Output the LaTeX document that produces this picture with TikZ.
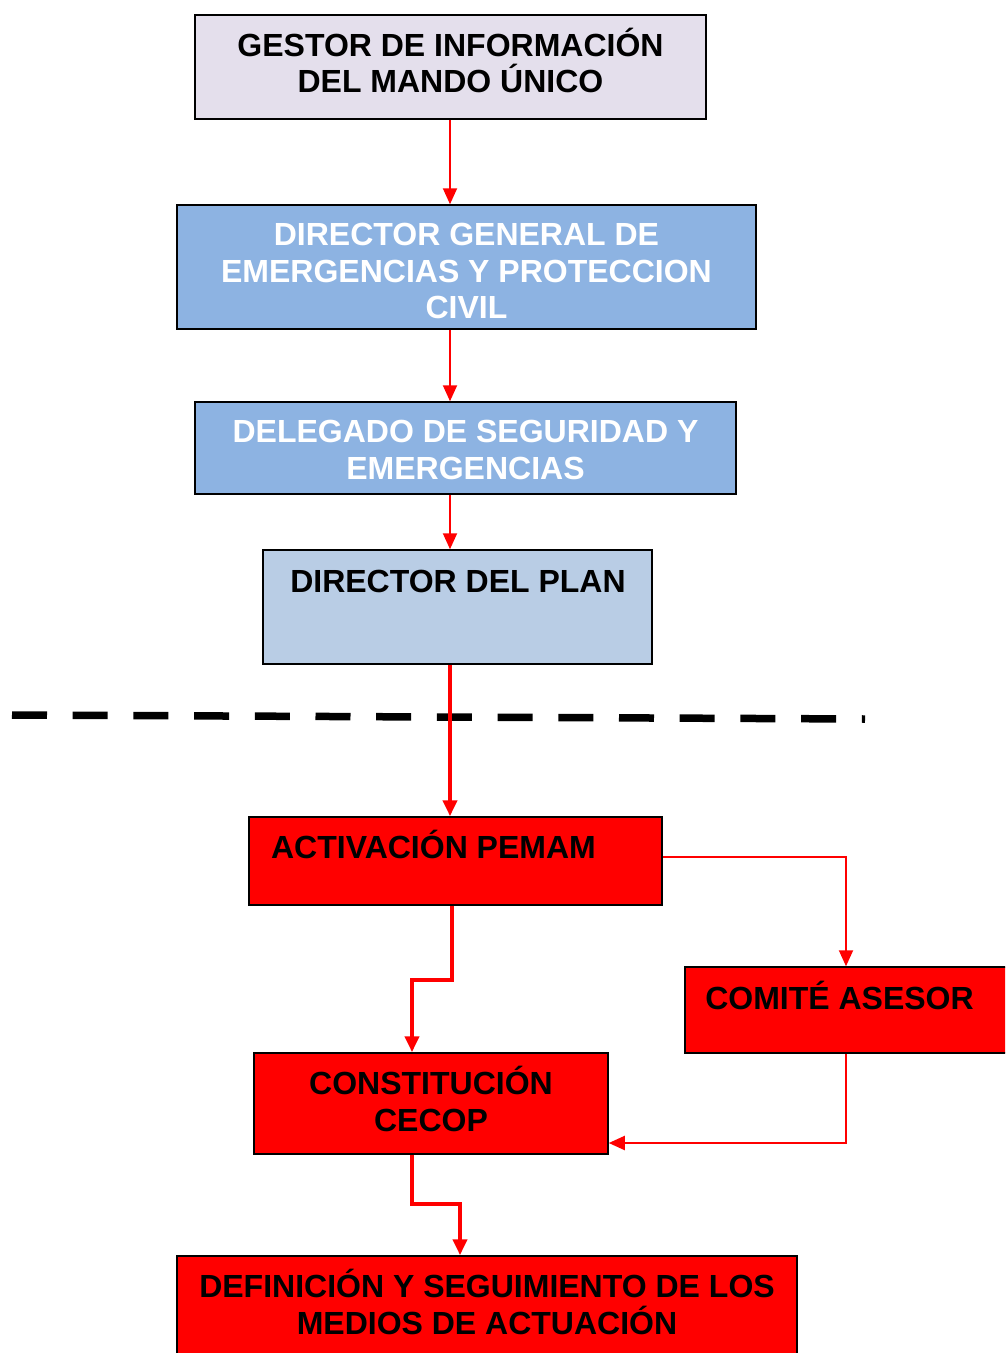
\documentclass[tikz,border=0pt]{standalone}
\usepackage{fontspec}
\setmainfont{Liberation Sans}
\usetikzlibrary{arrows.meta}
\definecolor{lav}{HTML}{E4DFEC}
\definecolor{bluebox}{HTML}{8DB3E2}
\definecolor{paleblue}{HTML}{B9CDE5}
\definecolor{redbox}{HTML}{FF0000}
\definecolor{arrowred}{HTML}{FF0000}
\tikzset{
  box/.style={draw=black, line width=1.5pt, inner sep=0pt},
  txt/.style={font=\fontsize{32}{36.5}\selectfont\bfseries, align=center, inner sep=0pt},
  thin arrow/.style={draw=arrowred, line width=2pt, -{Triangle[length=16pt,width=14pt]}},
  thick arrow/.style={draw=arrowred, line width=4pt, -{Triangle[length=16pt,width=14pt]}},
  sep line/.style={draw=black, line width=7.5pt, dash pattern=on 35pt off 25.7pt}
}
\begin{document}
\begin{tikzpicture}[x=1pt,y=-1pt]
\clip (0,0) rectangle (1005,1353);
\fill[white] (0,0) rectangle (1005,1353);

% boxes
\node[box, fill=lav, minimum width=511pt, minimum height=104pt] (gestor) at (450.5,67) {};
\node[txt] (tgestor) at (450.5,60.5) {GESTOR DE INFORMACIÓN\\DEL MANDO ÚNICO};

\node[box, fill=bluebox, minimum width=579pt, minimum height=124pt] (dg) at (466.5,267) {};
\node[txt, text=white] (tdg) at (466.5,271) {DIRECTOR GENERAL DE\\EMERGENCIAS Y PROTECCION\\CIVIL};

\node[box, fill=bluebox, minimum width=541pt, minimum height=92pt] (del) at (465.5,448) {};
\node[txt, text=white] (tdel) at (465.5,450) {DELEGADO DE SEGURIDAD Y\\EMERGENCIAS};

\node[box, fill=paleblue, minimum width=389pt, minimum height=114pt] (plan) at (457.5,607) {};
\node[txt] (tplan) at (458,581) {DIRECTOR DEL PLAN};

\node[box, fill=redbox, minimum width=413pt, minimum height=88pt] (act) at (455.5,861) {};
\node[txt] (tact) at (433.5,844) {ACTIVACIÓN PEMAM};

\node[box, fill=redbox, minimum width=330pt, minimum height=86pt] (comite) at (850,1010) {};
\node[txt] (tcomite) at (839.5,995) {COMITÉ ASESOR};

\node[box, fill=redbox, minimum width=354pt, minimum height=101pt] (cecop) at (431,1103.5) {};
\node[txt] (tcecop) at (431,1099) {CONSTITUCIÓN\\CECOP};

\node[box, fill=redbox, minimum width=620pt, minimum height=120pt] (def) at (487,1316) {};
\node[txt] (tdef) at (487,1302) {DEFINICIÓN Y SEGUIMIENTO DE LOS\\MEDIOS DE ACTUACIÓN};

% helper coordinates
\coordinate (axis) at (450,0);
\coordinate (axisb) at (452,0);
\coordinate (k1) at (412,980);
\coordinate (k2) at (846,1143);
\coordinate (k3) at (460,1204);
\coordinate (sepL) at (12,715);
\coordinate (sepR) at (865,719);

% separator
\draw[sep line] (sepL) -- (sepR);

% connectors
\draw[thin arrow] (gestor.south -| axis) -- (dg.north -| axis);
\draw[thin arrow] (dg.south -| axis) -- (del.north -| axis);
\draw[thin arrow] (del.south -| axis) -- (plan.north -| axis);
\draw[thick arrow] (plan.south -| axis) -- (act.north -| axis);
\draw[thin arrow] ([yshift=4pt]act.east) -| (comite.north -| k2);
\draw[thick arrow] (act.south -| axisb) |- (k1) -- (cecop.north -| k1);
\draw[thin arrow] (comite.south -| k2) |- (cecop.east |- k2);
\draw[thick arrow] (cecop.south -| k1) |- (k3) -- (def.north -| k3);
\end{tikzpicture}
\end{document}
